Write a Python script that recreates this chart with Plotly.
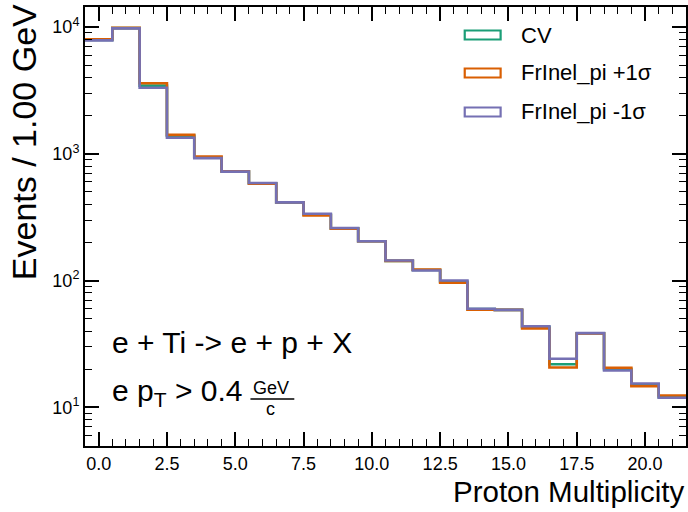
import numpy as np
import plotly.graph_objects as go

# ---- data ----
bin_edges = [i - 0.5 for i in range(23)]  # -0.5 ... 21.5
cv = [7900, 9800, 3450, 1385, 935, 726, 585, 414, 332, 258, 204, 143,
      121, 98, 59.5, 58.7, 43, 21.9, 38.4, 20.0, 15.1, 12.1]
plus1 = [8000, 9850, 3600, 1410, 950, 728, 580, 415, 327, 256, 204, 143,
         122, 96, 59, 58.7, 42, 20.6, 38.2, 20.5, 14.7, 12.4]
minus1 = [7850, 9750, 3320, 1340, 925, 724, 588, 414, 337, 260, 204, 144,
          120, 100, 60, 58.7, 43.6, 24.2, 38.5, 19.5, 15.4, 11.9]
series_names = ["CV", "FrInel_pi +1σ", "FrInel_pi -1σ"]
series_vals = [cv, plus1, minus1]
colors = ["#1b9e77", "#d95f02", "#7570b3"]
y_tickvals = [10, 100, 1000, 10000]
y_ticktext = ["10<sup>1</sup>", "10<sup>2</sup>", "10<sup>3</sup>", "10<sup>4</sup>"]
y_minor_vals = [k * 10 ** d for d in range(0, 5) for k in range(2, 10)]

W, H = 688, 512
L, R, T, B = 85, 0, 7, 66
pw, ph = W - L - R, H - T - B

def px(xp):
    return (xp - L) / pw

def py(yp):
    return (H - B - yp) / ph

fig = go.Figure()
for name, vals, col in zip(series_names, series_vals, colors):
    fig.add_trace(go.Scatter(
        x=bin_edges, y=list(vals) + [vals[-1]], mode="lines", name=name,
        line=dict(color=col, width=2.6, shape="hv"),
        showlegend=False, hoverinfo="skip"))

font = "Liberation Sans, Arial, sans-serif"
fig.update_layout(
    width=W, height=H,
    margin=dict(l=L, r=R, t=T, b=B, pad=0),
    paper_bgcolor="white", plot_bgcolor="white",
    font=dict(family=font, color="black", size=18),
    showlegend=False,
    xaxis=dict(range=[-0.5, 21.5], showline=True, linewidth=2, linecolor="black",
               mirror="ticks", ticks="inside", ticklen=14, tickwidth=1.5, tickcolor="black",
               tick0=0, dtick=2.5, tickformat=".1f", showgrid=False, zeroline=False,
               tickfont=dict(size=18),
               minor=dict(ticks="inside", ticklen=7, tickwidth=1, tickcolor="black", dtick=0.5, showgrid=False)),
    yaxis=dict(type="log", range=[0.695, 4.158], showline=True, linewidth=2, linecolor="black",
               mirror="ticks", ticks="inside", ticklen=14, tickwidth=1.5, tickcolor="black",
               tickmode="array", tickvals=y_tickvals, ticktext=y_ticktext,
               showgrid=False, zeroline=False, tickfont=dict(size=18),
               minor=dict(ticks="inside", ticklen=7, tickwidth=1, tickcolor="black",
                          tickmode="array", tickvals=y_minor_vals, showgrid=False)),
)

ann = []
ann.append(dict(text="Events / 1.00 GeV", textangle=-90, xref="paper", yref="paper",
                x=px(24), y=py(2), xanchor="center", yanchor="top", showarrow=False,
                font=dict(size=34)))
ann.append(dict(text="Proton Multiplicity", xref="paper", yref="paper",
                x=px(688), y=py(491), xanchor="right", yanchor="middle", showarrow=False,
                font=dict(size=29.5)))
ann.append(dict(text="e + Ti -&gt; e + p + X", xref="paper", yref="paper",
                x=px(110), y=py(342), xanchor="left", yanchor="middle", showarrow=False,
                font=dict(size=30)))
ann.append(dict(text="e p<sub>T</sub> &gt; 0.4", xref="paper", yref="paper",
                x=px(110), y=py(392), xanchor="left", yanchor="middle", showarrow=False,
                font=dict(size=30)))
ann.append(dict(text="GeV", xref="paper", yref="paper",
                x=px(272), y=py(388), xanchor="center", yanchor="middle", showarrow=False,
                font=dict(size=18)))
ann.append(dict(text="c", xref="paper", yref="paper",
                x=px(271), y=py(409), xanchor="center", yanchor="middle", showarrow=False,
                font=dict(size=18)))
fig.add_shape(type="line", xref="paper", yref="paper", x0=px(251), x1=px(295),
              y0=py(399), y1=py(399), line=dict(color="black", width=1.3))

# legend (outlined boxes, like a step-histogram legend)
leg_rows = [35, 73, 112]
for name, col, yc in zip(series_names, colors, leg_rows):
    fig.add_shape(type="rect", xref="paper", yref="paper",
                  x0=px(466), x1=px(502), y0=py(yc - 4.5), y1=py(yc + 4.5),
                  line=dict(color=col, width=2.2), fillcolor="rgba(0,0,0,0)")
    ann.append(dict(text=name, xref="paper", yref="paper", x=px(520), y=py(yc),
                    xanchor="left", yanchor="middle", showarrow=False,
                    font=dict(size=22)))
fig.update_layout(annotations=ann)

fig.write_html("out.html")
